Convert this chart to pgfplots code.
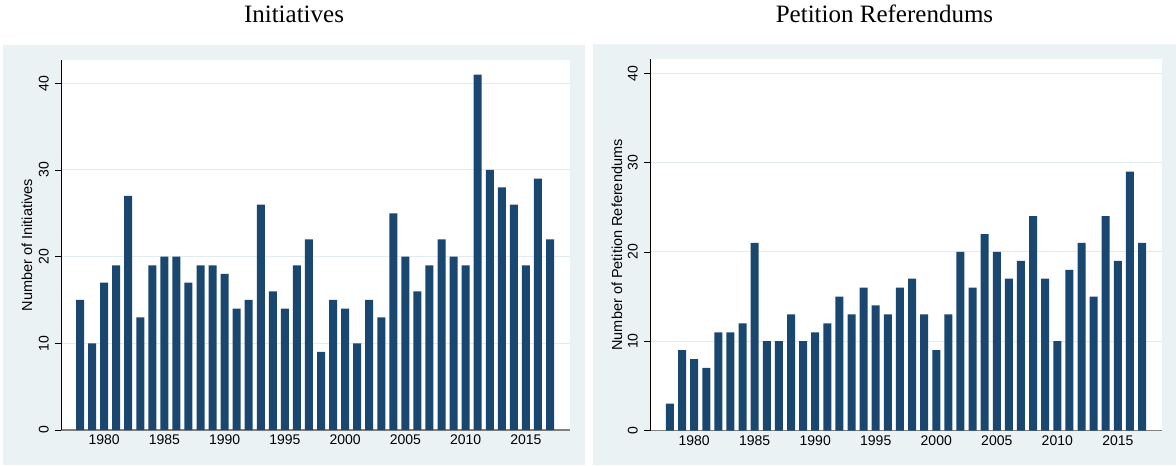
\documentclass[border=0pt]{standalone}
\usepackage{fontspec}
\setmainfont{Liberation Sans}
\newfontfamily\titlefont{Liberation Serif}
\usepackage{pgfplots}
\pgfplotsset{compat=1.18}
\definecolor{stbg}{RGB}{234,242,243}
\definecolor{stbar}{RGB}{26,71,111}
\definecolor{stgrid}{RGB}{226,235,238}

\pgfplotsset{stata/.style={
    scale only axis, anchor=south west,
    axis x line*=bottom, axis y line*=left,
    axis background/.style={fill=white},
    ymin=0,
    xtick={1980,1985,...,2015},
    ytick={0,10,20,30,40},
    xtick style={draw=none},
    ytick style={black, line width=0.6pt},
    tick align=outside,
    major tick length=6pt,
    ymajorgrids, major grid style={stgrid, line width=1pt},
    x axis line style={gray, line width=1.3pt},
    y axis line style={black, line width=0.7pt},
    /pgf/number format/assume math mode=true,
    xticklabel style={/pgf/number format/1000 sep={}, font=\fontsize{14}{14}\selectfont, inner sep=0pt, anchor=north, yshift=1pt},
    yticklabel style={font=\fontsize{14}{14}\selectfont, xshift=-6pt, rotate=90, anchor=south, inner sep=0pt},
    every axis y label/.style={rotate=90, anchor=center, font=\fontsize{14.5}{14.5}\selectfont},
    ybar, bar width=8pt,
}}

\begin{document}
\begin{tikzpicture}
\useasboundingbox (0,0) rectangle (1176pt,466pt);
\fill[stbg] (3pt,1pt) rectangle (585pt,421pt);
\fill[stbg] (593pt,1pt) rectangle (1176pt,422pt);
\node[anchor=base, font=\titlefont\fontsize{25}{30}\selectfont] at (294pt,443pt) {Initiatives};
\node[anchor=base, font=\titlefont\fontsize{25}{30}\selectfont] at (884.5pt,443pt) {Petition Referendums};

\begin{axis}[stata,
    at={(61pt,36pt)}, width=509pt, height=370pt,
    xmin=1976.42, xmax=2018.66, ymax=42.69,
    ylabel={Number of Initiatives},
    ylabel style={at={(axis description cs:-0.0668,0.5)}},
]
\addplot[fill=stbar, draw=none] coordinates {
(1978,15)(1979,10)(1980,17)(1981,19)(1982,27)(1983,13)(1984,19)(1985,20)
(1986,20)(1987,17)(1988,19)(1989,19)(1990,18)(1991,14)(1992,15)(1993,26)
(1994,16)(1995,14)(1996,19)(1997,22)(1998,9)(1999,15)(2000,14)(2001,10)
(2002,15)(2003,13)(2004,25)(2005,20)(2006,16)(2007,19)(2008,22)(2009,20)
(2010,19)(2011,41)(2012,30)(2013,28)(2014,26)(2015,19)(2016,29)(2017,22)
};
\end{axis}

\begin{axis}[stata,
    at={(650pt,35.5pt)}, width=512pt, height=371pt,
    xmin=1976.35, xmax=2018.65, ymax=41.55,
    ylabel={Number of Petition Referendums},
    ylabel style={at={(axis description cs:-0.0645,0.5)}},
]
\addplot[fill=stbar, draw=none] coordinates {
(1978,3)(1979,9)(1980,8)(1981,7)(1982,11)(1983,11)(1984,12)(1985,21)
(1986,10)(1987,10)(1988,13)(1989,10)(1990,11)(1991,12)(1992,15)(1993,13)
(1994,16)(1995,14)(1996,13)(1997,16)(1998,17)(1999,13)(2000,9)(2001,13)
(2002,20)(2003,16)(2004,22)(2005,20)(2006,17)(2007,19)(2008,24)(2009,17)
(2010,10)(2011,18)(2012,21)(2013,15)(2014,24)(2015,19)(2016,29)(2017,21)
};
\end{axis}
\end{tikzpicture}
\end{document}
